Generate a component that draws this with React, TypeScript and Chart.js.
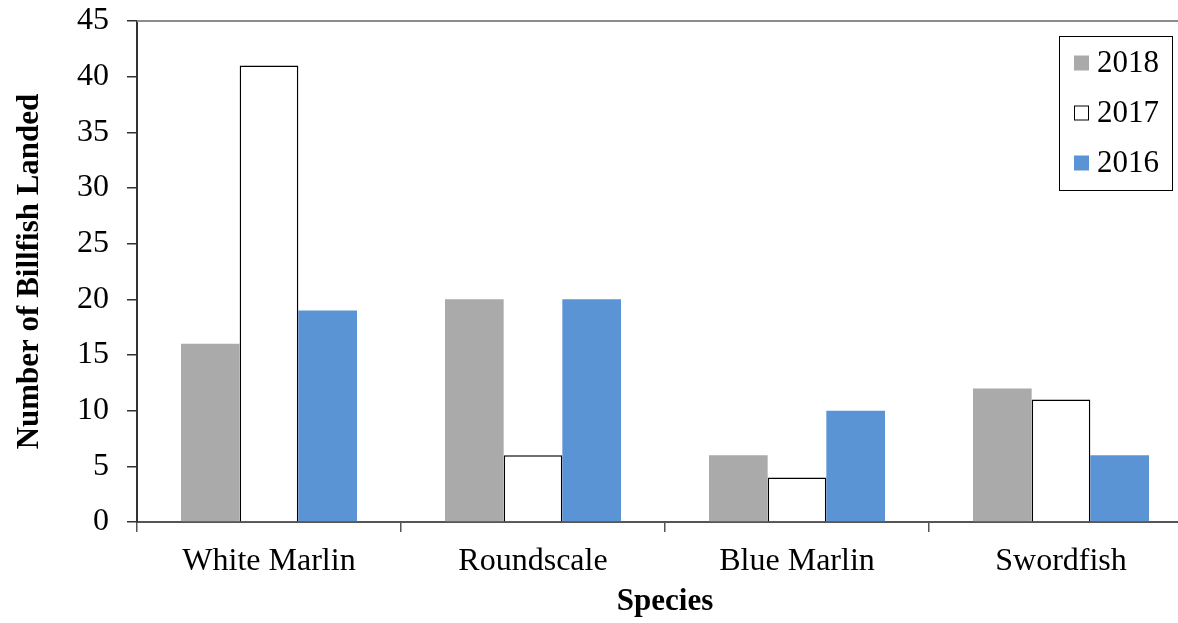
import React, { useEffect, useRef } from "react";
import { Chart, registerables } from "chart.js";

Chart.register(...registerables);

// Species on the category axis
const species = ["White Marlin", "Roundscale", "Blue Marlin", "Swordfish"];

// Billfish landed per species, by year
const landed2018 = [16, 20, 6, 12];
const landed2017 = [41, 6, 4, 11];
const landed2016 = [19, 20, 10, 6];

const yearLabels = ["2018", "2017", "2016"];

// Value axis range
const yMin = 0;
const yMax = 45;
const yStep = 5;

const FONT = "'Liberation Serif', 'Times New Roman', serif";

const GREY = "#AAAAAA";
const BLUE = "#5B94D5";

// Top frame line and the boxed legend inside the plot
const framePlugin = {
  id: "frameAndLegend",
  afterDraw(chart: any) {
    const { ctx, chartArea } = chart;
    ctx.save();
    ctx.strokeStyle = "#8c8c8c";
    ctx.lineWidth = 2;
    ctx.beginPath();
    ctx.moveTo(chartArea.left, chartArea.top);
    ctx.lineTo(chartArea.right, chartArea.top);
    ctx.stroke();

    // legend box
    const bx = 1059.5;
    const by = 36.5;
    const bw = 113;
    const bh = 154;
    ctx.fillStyle = "#fff";
    ctx.fillRect(bx, by, bw, bh);
    ctx.strokeStyle = "#000";
    ctx.lineWidth = 1;
    ctx.strokeRect(bx, by, bw, bh);

    ctx.font = `31px ${FONT}`;
    ctx.textBaseline = "middle";
    ctx.textAlign = "left";
    chart.data.datasets.forEach((ds: any, i: number) => {
      const cy = 63 + i * 50;
      const sx = 1074;
      const size = 15;
      ctx.fillStyle = ds.backgroundColor;
      ctx.fillRect(sx, cy - size / 2, size, size);
      if (ds.borderWidth) {
        ctx.strokeStyle = "#000";
        ctx.lineWidth = 1;
        ctx.strokeRect(sx + 0.5, cy - size / 2 + 0.5, size - 1, size - 1);
      }
      ctx.fillStyle = "#000";
      ctx.fillText(ds.label, 1097, cy + 1);
    });
    ctx.restore();
  },
};

export default function App() {
  const canvasRef = useRef<HTMLCanvasElement | null>(null);

  useEffect(() => {
    if (!canvasRef.current) return;
    const chart = new Chart(canvasRef.current, {
      type: "bar",
      data: {
        labels: species,
        datasets: [
          {
            label: yearLabels[0],
            data: landed2018,
            backgroundColor: GREY,
            borderWidth: 0,
          },
          {
            label: yearLabels[1],
            data: landed2017,
            backgroundColor: "#FFFFFF",
            borderColor: "#000000",
            borderWidth: 1.5,
          },
          {
            label: yearLabels[2],
            data: landed2016,
            backgroundColor: BLUE,
            borderWidth: 0,
          },
        ],
      },
      options: {
        responsive: false,
        animation: false,
        layout: { padding: { left: 0, top: 21, right: 7, bottom: 0 } },
        datasets: {
          bar: { categoryPercentage: 2 / 3, barPercentage: 1 },
        },
        plugins: {
          legend: { display: false },
          tooltip: { enabled: false },
        },
        scales: {
          x: {
            offset: true,
            afterFit(scale: any) {
              scale.height = 101;
              scale.paddingLeft = 0;
              scale.paddingRight = 0;
            },
            grid: {
              offset: true,
              drawOnChartArea: false,
              drawTicks: true,
              tickLength: 10,
              color: "#555555",
              lineWidth: 1.5,
            },
            border: { display: true, color: "#555555", width: 2 },
            ticks: {
              color: "#000",
              padding: 10,
              font: { family: FONT, size: 32 },
            },
            title: {
              display: true,
              text: "Species",
              color: "#000",
              font: { family: FONT, size: 31, weight: "bold" },
              padding: { top: 0, bottom: 2 },
            },
          },
          y: {
            min: yMin,
            max: yMax,
            afterFit(scale: any) {
              scale.width = 137;
              scale.paddingTop = 0;
              scale.paddingBottom = 0;
            },
            grid: {
              drawOnChartArea: false,
              drawTicks: true,
              tickLength: 10,
              color: "#333333",
              lineWidth: 1.5,
            },
            border: { display: true, color: "#333333", width: 2 },
            ticks: {
              stepSize: yStep,
              color: "#000",
              padding: 18,
              font: { family: FONT, size: 32 },
            },
            title: {
              display: true,
              text: "Number of Billfish Landed",
              color: "#000",
              font: { family: FONT, size: 31, weight: "bold" },
              padding: { top: 11, bottom: 0 },
            },
          },
        },
      },
      plugins: [framePlugin],
    });
    return () => chart.destroy();
  }, []);

  return (
    <div
      style={{
        position: "absolute",
        left: 0,
        top: 0,
        width: 1178,
        height: 623,
        overflow: "hidden",
        background: "#fff",
      }}
    >
      <canvas ref={canvasRef} width={1200} height={623} style={{ display: "block" }} />
    </div>
  );
}
